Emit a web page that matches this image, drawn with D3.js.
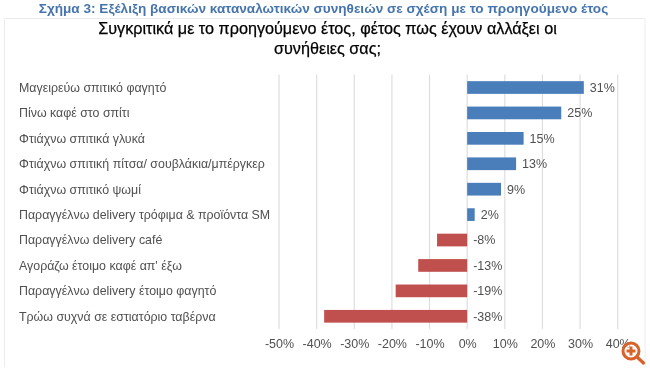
<!DOCTYPE html>
<html lang="el">
<head>
<meta charset="UTF-8">
<title>Σχήμα 3</title>
<script src="https://cdn.jsdelivr.net/npm/d3@7"></script>
<style>
	body { margin: 0; padding: 0; background: #fff; }
	/* the reference is a soft, rescaled screenshot */
	svg { display: block; font-family: "Liberation Sans", Arial, sans-serif; filter: blur(0.4px); }
</style>
</head>
<body>
<svg id="chart" width="650" height="370"></svg>
<script>
const categories = [
	"Μαγειρεύω σπιτικό φαγητό",
	"Πίνω καφέ στο σπίτι",
	"Φτιάχνω σπιτικά γλυκά",
	"Φτιάχνω σπιτική πίτσα/ σουβλάκια/μπέργκερ",
	"Φτιάχνω σπιτικό ψωμί",
	"Παραγγέλνω delivery τρόφιμα & προϊόντα SM",
	"Παραγγέλνω delivery café",
	"Αγοράζω έτοιμο καφέ απ' έξω",
	"Παραγγέλνω delivery έτοιμο φαγητό",
	"Τρώω συχνά σε εστιατόριο ταβέρνα"
];
const values = [31, 25, 15, 13, 9, 2, -8, -13, -19, -38];
const xTicks = [-50, -40, -30, -20, -10, 0, 10, 20, 30, 40];
const heading = "Σχήμα 3: Εξέλιξη βασικών καταναλωτικών συνηθειών σε σχέση με το προηγούμενο έτος";
const titleLines = ["Συγκριτικά με το προηγούμενο έτος, φέτος πως έχουν αλλάξει οι", "συνήθειες σας;"];

const svg = d3.select("#chart");

const x = d3.scaleLinear().domain([-50, 40]).range([279, 617.7]);
const y = d3.scaleBand().domain(categories).range([74.8, 329]).paddingInner(0.5).paddingOuter(0.25);

// chart frame, only top and sides show in the picture
svg.append("path")
	.attr("d", "M4.5,367V18.5H645V367")
	.attr("fill", "none")
	.attr("stroke", "#ececec");

svg.append("text")
	.attr("x", 323.5).attr("y", 13)
	.attr("text-anchor", "middle")
	.attr("font-size", 13.6).attr("font-weight", "bold")
	.attr("fill", "#4675ad")
	.text(heading);

svg.selectAll(".title").data(titleLines).join("text")
	.attr("class", "title")
	.attr("x", 327.5).attr("y", (d, i) => 34 + i * 20)
	.attr("text-anchor", "middle")
	.attr("font-size", 16.2)
	.attr("fill", "#000")
	.attr("stroke", "#000").attr("stroke-width", 0.25)
	.text(d => d);

// grid
svg.append("g").selectAll("line").data(xTicks).join("line")
	.attr("x1", d => x(d)).attr("x2", d => x(d))
	.attr("y1", 74.6).attr("y2", 329)
	.attr("stroke", "#dedede").attr("stroke-width", 1.2);

const axis = svg.append("g")
	.attr("transform", "translate(0,329)")
	.call(d3.axisBottom(x).tickValues(xTicks).tickSize(0).tickPadding(10).tickFormat(d => d + "%"));
axis.select(".domain").remove();
axis.selectAll("text").attr("font-size", 12.5).attr("fill", "#505050").attr("font-family", "inherit");

svg.append("g").selectAll("rect").data(values).join("rect")
	.attr("x", d => x(Math.min(d, 0)))
	.attr("y", (d, i) => y(categories[i]))
	.attr("width", d => Math.abs(x(d) - x(0)))
	.attr("height", y.bandwidth())
	.attr("fill", d => d < 0 ? "#c0504d" : "#4a7ebb");

svg.append("g").selectAll("text").data(values).join("text")
	.attr("x", d => x(Math.max(d, 0)) + 6)
	.attr("y", (d, i) => y(categories[i]) + y.bandwidth() / 2)
	.attr("dy", "0.35em")
	.attr("font-size", 12.5).attr("fill", "#505050")
	.text(d => d + "%");

svg.append("g").selectAll("text").data(categories).join("text")
	.attr("x", 19)
	.attr("y", d => y(d) + y.bandwidth() / 2)
	.attr("dy", "0.35em")
	.attr("font-size", 12.4).attr("fill", "#505050")
	.text(d => d);

// zoom badge in the corner
const badge = svg.append("g").attr("transform", "translate(631,351)");
badge.append("circle").attr("r", 8).attr("fill", "#fff").attr("fill-opacity", 0.6).attr("stroke", "#d9622b").attr("stroke-width", 3);
badge.append("path").attr("d", "M-4.5,0H4.5M0,-4.5V4.5").attr("stroke", "#d9622b").attr("stroke-width", 3);
badge.append("path").attr("d", "M6.5,6.5L12.5,12").attr("stroke", "#d9622b").attr("stroke-width", 3.2).attr("stroke-linecap", "round");
</script>
</body>
</html>
